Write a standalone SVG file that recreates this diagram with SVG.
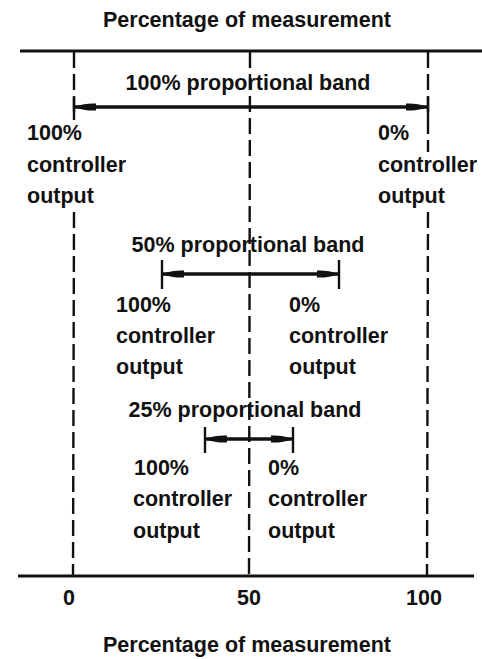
<svg xmlns="http://www.w3.org/2000/svg" width="482" height="659" viewBox="0 0 482 659">
<defs>
<style>
text{font-family:"Liberation Sans",Arial,sans-serif;font-size:21.5px;font-weight:bold;fill:#111}
.mid{text-anchor:middle}
.axis{stroke:#111;stroke-width:3;fill:none}
.guide{stroke:#111;stroke-width:2.4;stroke-dasharray:16 6;fill:none}
.band{stroke:#111;stroke-width:3.5;fill:none}
.tick{stroke:#111;stroke-width:2.4;fill:none}
</style>
<marker id="ah" viewBox="0 0 22 9" refX="22" refY="4.5" markerWidth="22" markerHeight="9" markerUnits="userSpaceOnUse" orient="auto-start-reverse">
<path d="M0,1 C6,0.5 14,1.5 22,4.5 C14,7.5 6,8.5 0,8 Z" fill="#111"/>
</marker>
</defs>
<rect width="482" height="659" fill="#fff"/>
<g id="axes">
<line class="axis" x1="20" y1="51" x2="482" y2="51"/>
<line class="axis" x1="18" y1="576" x2="474" y2="576"/>
<text class="mid" x="247" y="27">Percentage of measurement</text>
<text class="mid" x="247" y="652">Percentage of measurement</text>
<text class="mid" x="69" y="605">0</text>
<text class="mid" x="249" y="605">50</text>
<text class="mid" x="424" y="605">100</text>
</g>
<g id="guides">
<line class="guide" x1="74" y1="52" x2="74" y2="120"/>
<line class="guide" x1="74" y1="212" x2="73" y2="576"/>
<line class="guide" x1="250" y1="52" x2="249" y2="576"/>
<line class="guide" x1="428" y1="52" x2="428" y2="152"/>
<line class="guide" x1="428" y1="212" x2="427" y2="576"/>
</g>
<g id="connectors">
<g id="arrow100">
<line class="tick" x1="74" y1="97" x2="74" y2="118"/>
<line class="tick" x1="428" y1="97" x2="428" y2="118"/>
<line class="band" x1="74" y1="107" x2="428" y2="107" marker-start="url(#ah)" marker-end="url(#ah)"/>
</g>
<g id="arrow50">
<line class="tick" x1="162" y1="260" x2="162" y2="289"/>
<line class="tick" x1="339" y1="260" x2="339" y2="289"/>
<line class="band" x1="162" y1="274" x2="339" y2="274" marker-start="url(#ah)" marker-end="url(#ah)"/>
</g>
<g id="arrow25">
<line class="tick" x1="205" y1="427" x2="205" y2="453"/>
<line class="tick" x1="293" y1="427" x2="293" y2="453"/>
<line class="band" x1="205" y1="439" x2="293" y2="439" marker-start="url(#ah)" marker-end="url(#ah)"/>
</g>
</g>
<g id="band100">
<text class="mid" x="248" y="90">100% proportional band</text>
<text x="27" y="140">100%</text>
<text x="27" y="172">controller</text>
<text x="27" y="203">output</text>
<text x="378" y="140">0%</text>
<text x="378" y="172">controller</text>
<text x="378" y="203">output</text>
</g>
<g id="band50">
<text class="mid" x="248" y="252">50% proportional band</text>
<text x="116" y="312">100%</text>
<text x="116" y="343">controller</text>
<text x="116" y="374">output</text>
<text x="289" y="312">0%</text>
<text x="289" y="343">controller</text>
<text x="289" y="374">output</text>
</g>
<g id="band25">
<text class="mid" x="245" y="417">25% proportional band</text>
<text x="134" y="475">100%</text>
<text x="133" y="506">controller</text>
<text x="133" y="538">output</text>
<text x="268" y="475">0%</text>
<text x="268" y="506">controller</text>
<text x="268" y="538">output</text>
</g>
</svg>
